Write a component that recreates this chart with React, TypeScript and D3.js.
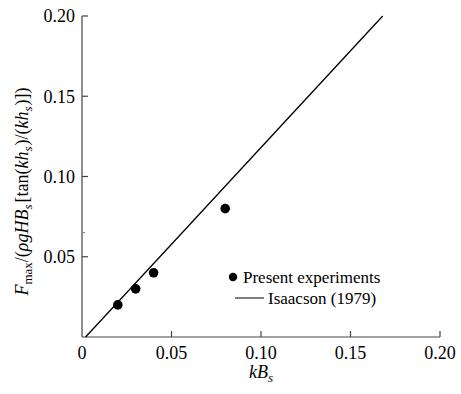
import * as d3 from "d3";

const expX = [0.02, 0.03, 0.04, 0.08];
const expY = [0.02, 0.03, 0.04, 0.08];
const isaX = [0.002, 0.05, 0.1, 0.168];
const isaY = [0, 0.0578, 0.1181, 0.2];
const xTicks = [0, 0.05, 0.1, 0.15, 0.2];
const yTicks = [0.05, 0.1, 0.15, 0.2];
const yMinor = [0.065];

const W = 461, H = 394;
const m = { left: 82, top: 16, right: 21, bottom: 57 };
const font = "'Times New Roman', 'Liberation Serif', serif";

export default function App() {
  const x = d3.scaleLinear().domain([0, 0.2]).range([m.left, W - m.right]);
  const y = d3.scaleLinear().domain([0, 0.2]).range([H - m.bottom, m.top]);
  const line = d3.line<number>().x((d, i) => x(isaX[i])).y(d => y(d));
  const x0 = x(0), y0 = y(0);
  const fmt = (v: number) => (v === 0 ? "0" : v.toFixed(2));

  return (
    <svg width={W} height={H} fontFamily={font} style={{ position: "absolute", left: 0, top: 0 }}>
      <rect width={W} height={H} fill="#fff" />
      {/* axes */}
      <line x1={x0} x2={x0} y1={y(0.2)} y2={y0} stroke="#444" strokeWidth={1.2} />
      <line x1={x0} x2={x(0.2)} y1={y0} y2={y0} stroke="#444" strokeWidth={1.2} />
      {yTicks.map(t => (
        <g key={"y" + t}>
          <line x1={x0} x2={x0 + 6} y1={y(t)} y2={y(t)} stroke="#444" strokeWidth={1.2} />
          <text x={x0 - 7} y={y(t)} dy="0.35em" textAnchor="end" fontSize={18}>{fmt(t)}</text>
        </g>
      ))}
      {yMinor.map(t => (
        <line key={"m" + t} x1={x0} x2={x0 + 3} y1={y(t)} y2={y(t)} stroke="#777" strokeWidth={1} />
      ))}
      {xTicks.map(t => (
        <g key={"x" + t}>
          {t > 0 && <line x1={x(t)} x2={x(t)} y1={y0} y2={y0 - 6} stroke="#444" strokeWidth={1.2} />}
          <text x={x(t)} y={y0 + 22} textAnchor="middle" fontSize={18}>{fmt(t)}</text>
        </g>
      ))}
      {/* data */}
      <path d={line(isaY) || ""} fill="none" stroke="#000" strokeWidth={1.3} />
      {expX.map((v, i) => (
        <circle key={i} cx={x(v)} cy={y(expY[i])} r={4.8} fill="#000" />
      ))}
      {/* legend */}
      <circle cx={233} cy={277} r={4.2} fill="#000" />
      <text x={243} y={277} dy="0.35em" fontSize={17}>Present experiments</text>
      <line x1={235} x2={264} y1={298} y2={298} stroke="#000" strokeWidth={1} />
      <text x={268} y={298} dy="0.35em" fontSize={17}>Isaacson (1979)</text>
      {/* axis titles */}
      <text x={x(0.1)} y={378} textAnchor="middle" fontSize={18} fontStyle="italic">
        kB<tspan fontSize={13} dy={4}>s</tspan>
      </text>
      <text transform={`translate(28, ${y(0.1) + 15}) rotate(-90)`} textAnchor="middle" fontSize={18}>
        <tspan fontStyle="italic">F</tspan>
        <tspan fontSize={13} dy={4}>max</tspan>
        <tspan dy={-4}>/(</tspan>
        <tspan fontStyle="italic">ρgHB</tspan>
        <tspan fontSize={13} fontStyle="italic" dy={4}>s</tspan>
        <tspan dy={-4} dx={2}>[tan(</tspan>
        <tspan fontStyle="italic">kh</tspan>
        <tspan fontSize={13} fontStyle="italic" dy={4}>s</tspan>
        <tspan dy={-4} dx={1}>)/(</tspan>
        <tspan fontStyle="italic">kh</tspan>
        <tspan fontSize={13} fontStyle="italic" dy={4}>s</tspan>
        <tspan dy={-4} dx={1}>)])</tspan>
      </text>
    </svg>
  );
}
